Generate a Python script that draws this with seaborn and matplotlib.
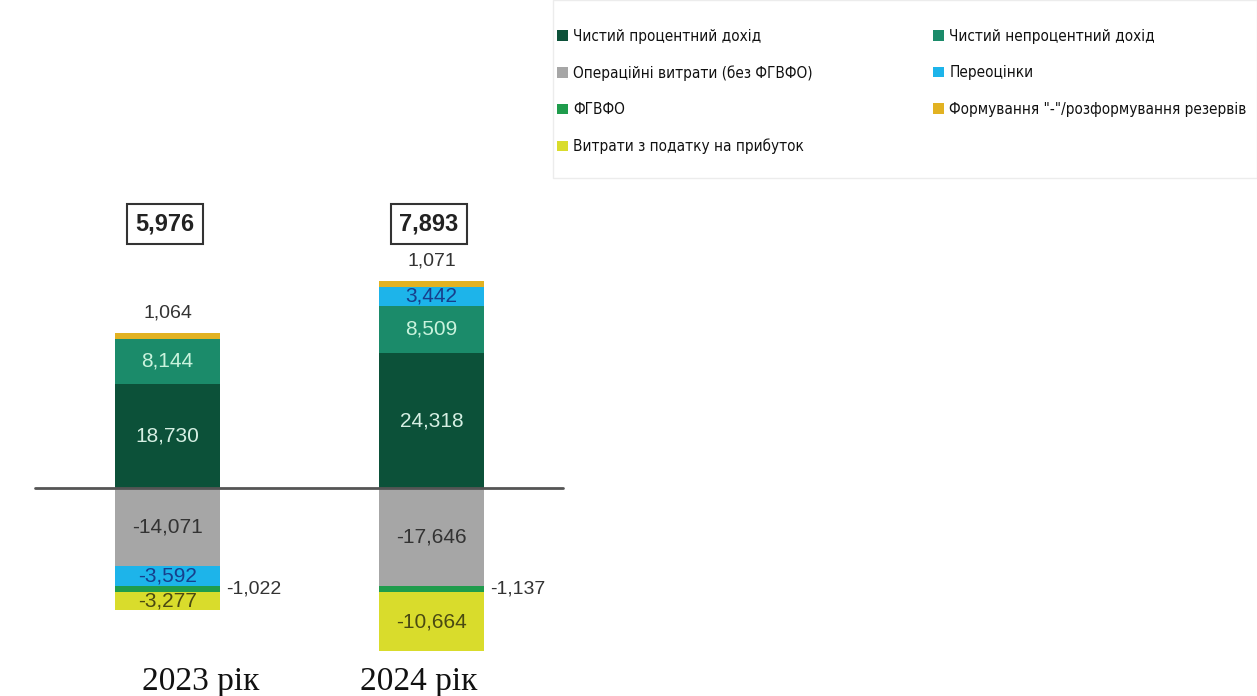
import matplotlib
matplotlib.use("Agg")
import matplotlib.pyplot as plt
from matplotlib.patches import Patch, Rectangle
import numpy as np
import pandas as pd
import seaborn as sns

# ---- data (UAH m) ----
years = ["2023 рік", "2024 рік"]
net_interest = [18730, 24318]
net_noninterest = [8144, 8509]
opex = [-14071, -17646]
revaluation = [-3592, 3442]
dgf = [-1022, -1137]
reserves = [1064, 1071]
tax = [-3277, -10664]
net_result = [5976, 7893]

series_names = [
    "Чистий процентний дохід",
    "Чистий непроцентний дохід",
    "Операційні витрати (без ФГВФО)",
    "Переоцінки",
    "ФГВФО",
    "Формування \"-\"/розформування резервів",
    "Витрати з податку на прибуток",
]
series_values = [net_interest, net_noninterest, opex, revaluation, dgf, reserves, tax]
series_colors = ["#0c5139", "#1b8b6a", "#a6a6a6", "#1db4ea", "#1f9c4c", "#e2b222", "#d9dc2c"]
label_colors = ["#d6efe3", "#c9f3dd", "#333333", "#173f8c", None, None, "#4a4a12"]

sns.set_theme(style="white")
plt.rcParams["font.family"] = ["Liberation Sans", "DejaVu Sans"]

W, H = 1257, 696
fig = plt.figure(figsize=(W / 100, H / 100), dpi=100)
ax = fig.add_axes([0, 0, 1, 1])

pos_base = np.zeros(len(years))
neg_base = np.zeros(len(years))
segments = []
for name, vals, col in zip(series_names, series_values, series_colors):
    vals = np.asarray(vals, dtype=float)
    bottom = np.where(vals >= 0, pos_base, neg_base)
    df = pd.DataFrame({"year": years, "value": vals})
    sns.barplot(data=df, x="year", y="value", order=years, bottom=bottom,
                color=col, width=0.4, errorbar=None, saturation=1,
                linewidth=0, ax=ax, zorder=2)
    segments.append((bottom, vals))
    pos_base = pos_base + np.where(vals >= 0, vals, 0)
    neg_base = neg_base + np.where(vals < 0, vals, 0)

# axes geometry
scale = 0.00555  # pixels per unit
zero_px = 488
ax.set_ylim(-(H - zero_px) / scale, zero_px / scale)
step = 264.0
x0 = 167.5
ax.set_xlim(-x0 / step, (W - x0) / step)
ax.set_axis_off()

ax.axhline(0, xmin=35 / W, xmax=563 / W, color="#555555", lw=2, zorder=3)

def fmt(v):
    return f"{v:,.0f}"

# labels inside / beside segments
for k, (bottom, vals) in enumerate(segments):
    for i in range(len(years)):
        v = vals[i]
        mid = bottom[i] + v / 2
        if k == 5:  # reserves: above the positive stack
            ax.annotate(fmt(v), (i, bottom[i] + v), xytext=(0, 8), textcoords="offset points",
                        ha="center", va="bottom", fontsize=14, color="#333333")
        elif k == 4:  # DGF: to the right of the bar
            ax.annotate(fmt(v), (i + 0.2, mid), xytext=(4, 0), textcoords="offset points",
                        ha="left", va="center", fontsize=14, color="#333333")
        else:
            ax.text(i, mid, fmt(v), ha="center", va="center", fontsize=15,
                    color=label_colors[k], zorder=4)

# boxed totals
for i, t in enumerate(net_result):
    ax.text(i - 0.01, (zero_px - 224) / scale, fmt(t), ha="center", va="center",
            fontsize=17, fontweight="bold", color="#222222",
            bbox=dict(boxstyle="square,pad=0.35", fc="white", ec="#333333", lw=1.5))

# category labels
x_shift = [0.125, -0.047]
for i, y in enumerate(years):
    ax.text(i + x_shift[i], (zero_px - 690) / scale, y, ha="center", va="baseline",
            fontsize=24, family=["Liberation Serif", "DejaVu Serif"], color="#111111")

# legend panel
fig.patches.append(Rectangle((553 / W, 1 - 178 / H), 1 - 553 / W, 178 / H,
                             transform=fig.transFigure, fc="white", ec="#ececec", lw=1, zorder=0))
order = [0, 2, 4, 6, 1, 3, 5]
handles = [Patch(facecolor=series_colors[j], edgecolor="none") for j in order]
labels = [series_names[j] for j in order]
leg = fig.legend(handles, labels, ncol=2, loc="upper left",
                 bbox_to_anchor=(557 / W, 1 - 29 / H), frameon=False,
                 borderpad=0, borderaxespad=0, handlelength=0.7, handleheight=0.7,
                 handletextpad=0.35, labelspacing=1.4, columnspacing=7.9,
                 prop={"family": "DejaVu Sans", "stretch": "condensed", "size": 11})
for txt in leg.get_texts():
    txt.set_color("#111111")

fig.savefig("out.png", dpi=100, facecolor="white")
